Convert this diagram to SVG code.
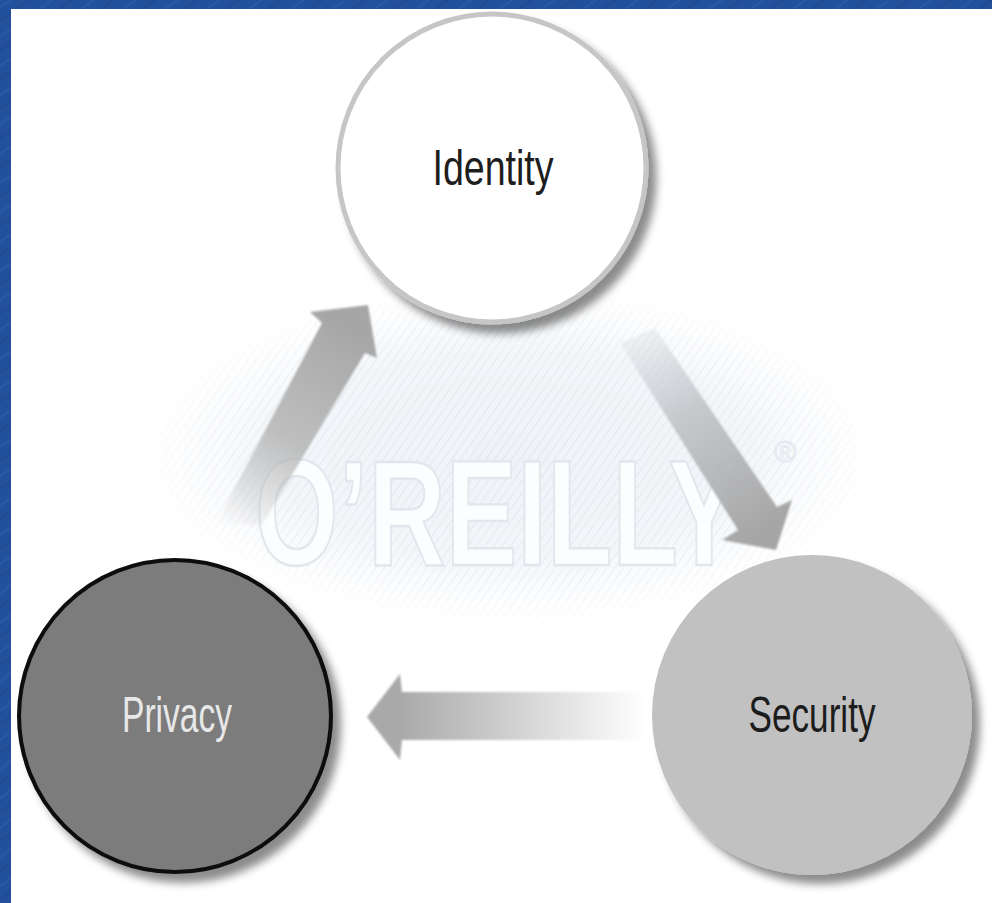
<svg xmlns="http://www.w3.org/2000/svg" width="992" height="903" viewBox="0 0 992 903">
  <defs>
    <style>
      .label { font-family: "Liberation Sans", "DejaVu Sans", sans-serif; font-size: 50px; text-anchor: middle; }
      .wm { font-family: "Liberation Sans", "DejaVu Sans", sans-serif; font-size: 150px; font-weight: bold; fill: #fcfdfe; stroke: #e2e7ee; stroke-width: 2.5; }
      .reg { font-family: "Liberation Sans", "DejaVu Sans", sans-serif; font-size: 30px; fill: #fcfdfe; stroke: #e2e7ee; stroke-width: 1; }
    </style>
    <pattern id="bgtex" width="24" height="24" patternUnits="userSpaceOnUse" patternTransform="rotate(-35)">
      <rect width="24" height="24" fill="#22509a"/>
      <line x1="0" y1="6" x2="24" y2="6" stroke="#3562aa" stroke-width="1.5" opacity="0.6"/>
      <line x1="0" y1="17" x2="24" y2="17" stroke="#1a4488" stroke-width="1.5" opacity="0.6"/>
    </pattern>
    <pattern id="hatch" width="7" height="7" patternUnits="userSpaceOnUse" patternTransform="rotate(-55)">
      <line x1="0" y1="3.5" x2="7" y2="3.5" stroke="#dbe2eb" stroke-width="1"/>
    </pattern>
    <radialGradient id="cloudGrad" cx="0.5" cy="0.5" r="0.5">
      <stop offset="0" stop-color="#eff2f7"/>
      <stop offset="0.65" stop-color="#f3f6f9"/>
      <stop offset="1" stop-color="#ffffff" stop-opacity="0"/>
    </radialGradient>
    <radialGradient id="hatchMaskGrad" cx="0.5" cy="0.5" r="0.5">
      <stop offset="0" stop-color="#ffffff" stop-opacity="0.75"/>
      <stop offset="0.7" stop-color="#ffffff" stop-opacity="0.45"/>
      <stop offset="1" stop-color="#ffffff" stop-opacity="0"/>
    </radialGradient>
    <mask id="hatchMask">
      <ellipse cx="510" cy="455" rx="390" ry="180" fill="url(#hatchMaskGrad)"/>
    </mask>
    <filter id="soft" x="-20%" y="-20%" width="140%" height="140%">
      <feGaussianBlur stdDeviation="14"/>
    </filter>
    <filter id="shadow" x="-20%" y="-20%" width="150%" height="150%">
      <feDropShadow dx="8" dy="9" stdDeviation="4" flood-color="#000000" flood-opacity="0.45"/>
    </filter>
    <filter id="blur1" x="-10%" y="-10%" width="120%" height="120%">
      <feGaussianBlur stdDeviation="1.2"/>
    </filter>
    <linearGradient id="gUp" gradientUnits="userSpaceOnUse" x1="225" y1="525" x2="340" y2="320">
      <stop offset="0" stop-color="#b0b0b0" stop-opacity="0"/>
      <stop offset="0.45" stop-color="#b4b4b4" stop-opacity="0.85"/>
      <stop offset="1" stop-color="#a6a6a6"/>
    </linearGradient>
    <linearGradient id="gDown" gradientUnits="userSpaceOnUse" x1="635" y1="335" x2="760" y2="530">
      <stop offset="0" stop-color="#c8ccd2" stop-opacity="0.2"/>
      <stop offset="0.4" stop-color="#bfc1c5" stop-opacity="0.85"/>
      <stop offset="1" stop-color="#a6a6a6"/>
    </linearGradient>
    <linearGradient id="gLeft" gradientUnits="userSpaceOnUse" x1="645" y1="0" x2="400" y2="0">
      <stop offset="0" stop-color="#ffffff"/>
      <stop offset="1" stop-color="#a9a9a9"/>
    </linearGradient>
  </defs>

  <!-- background -->
  <rect x="0" y="0" width="992" height="903" fill="url(#bgtex)"/>
  <rect x="11" y="9" width="981" height="894" fill="#ffffff"/>

  <!-- watermark -->
  <g id="watermark">
    <ellipse cx="510" cy="455" rx="385" ry="170" fill="url(#cloudGrad)" filter="url(#soft)"/>
    <rect x="110" y="270" width="800" height="370" fill="url(#hatch)" mask="url(#hatchMask)"/>
    <text class="wm" transform="translate(255,565) scale(0.715,1)" x="0" y="0">O’REILLY</text>
    <text class="reg" x="774" y="462">®</text>
  </g>

  <!-- connectors -->
  <g id="connectors" filter="url(#blur1)">
    <polygon id="arrow-privacy-identity" fill="url(#gUp)" points="215,525 322,323 310,312 368,305 377,358 365,353 262,525"/>
    <polygon id="arrow-identity-security" fill="url(#gDown)" points="620,343 655,328 777,507 792,500 776,550 722,540 738,530"/>
    <polygon id="arrow-security-privacy" fill="url(#gLeft)" points="645,692 402,692 400,674 367,717 400,760 402,740 645,740"/>
  </g>

  <!-- nodes -->
  <g id="identity">
    <circle cx="492" cy="168" r="154" fill="#ffffff" stroke="#c6c6c6" stroke-width="5" filter="url(#shadow)"/>
    <text class="label" x="493" y="185" fill="#1e1e1e" textLength="121" lengthAdjust="spacingAndGlyphs">Identity</text>
  </g>
  <g id="privacy">
    <circle cx="175" cy="716" r="156" fill="#7b7b7b" stroke="#0a0a0a" stroke-width="4" filter="url(#shadow)"/>
    <text class="label" x="177" y="732" fill="#e8e8e8" textLength="110" lengthAdjust="spacingAndGlyphs">Privacy</text>
  </g>
  <g id="security">
    <circle cx="812" cy="715" r="160" fill="#c1c1c1" filter="url(#shadow)"/>
    <text class="label" x="812" y="732" fill="#1c1c1c" textLength="127" lengthAdjust="spacingAndGlyphs">Security</text>
  </g>
</svg>
